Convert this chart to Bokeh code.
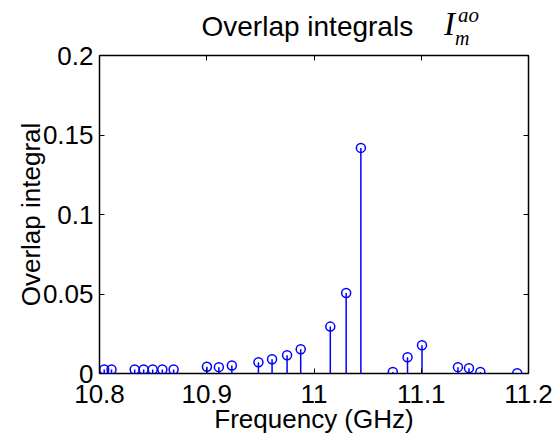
from bokeh.plotting import figure
from bokeh.layouts import column
from bokeh.models import FixedTicker, LinearAxis, Range1d, ColumnDataSource, Div
from bokeh.embed import file_html
from bokeh.resources import INLINE

# ---- data ----
freq = [10.8044, 10.8112, 10.8328, 10.8412, 10.8496, 10.8586, 10.8691,
        10.9002, 10.9113, 10.9234, 10.9482, 10.9609, 10.9749, 10.9876,
        11.0152, 11.0300, 11.0437, 11.0735, 11.0872, 11.1007,
        11.1342, 11.1445, 11.1551, 11.1895]
overlap = [0.0025, 0.0025, 0.0025, 0.0025, 0.0025, 0.0025, 0.0025,
           0.0042, 0.0040, 0.0050, 0.0071, 0.0090, 0.0115, 0.0152,
           0.0295, 0.0506, 0.1419, 0.0010, 0.0102, 0.0178,
           0.0040, 0.0033, 0.0010, 0.0002]
base = [0.0] * len(freq)

x_ticks = [10.8, 10.9, 11.0, 11.1, 11.2]
x_tick_labels = ["10.8", "10.9", "11", "11.1", "11.2"]
y_ticks = [0.0, 0.05, 0.1, 0.15, 0.2]
y_tick_labels = ["0", "0.05", "0.1", "0.15", "0.2"]

title_text = "Overlap integrals"
title_symbol = "I"
title_sup = "ao"
title_sub = "m"
x_label = "Frequency (GHz)"
y_label = "Overlap integral"

SANS = "Liberation Sans"
SERIF = "Liberation Serif"
BLUE = "#0000ff"
W = 559
TITLE_H = 46
OVERLAP = 10   # the plot's (transparent) top border slides under the title strip

# ---------------- title strip: real SVG text ----------------
def svg_text(x, y, txt, family, size, italic=False):
    style = (f"font-family:'{family}';font-size:{size}px;"
             f"font-style:{'italic' if italic else 'normal'};font-weight:normal;fill:#000")
    return f'<text x="{x}" y="{y}" style="{style}">{txt}</text>'

title_svg = (
    f'<svg xmlns="http://www.w3.org/2000/svg" width="{W}" height="{TITLE_H}" '
    f'style="display:block;overflow:visible">'
    + svg_text(201.5, 36, title_text, SANS, 28)
    + svg_text(444, 35, title_symbol, SERIF, 33, True)
    + svg_text(458, 22, title_sup, SERIF, 21, True)
    + svg_text(455, 45, title_sub, SERIF, 20, True)
    + '</svg>'
)
title_div = Div(text=title_svg, width=W, height=TITLE_H, margin=(0, 0, -OVERLAP, 0))

# ---------------- main stem plot ----------------
p = figure(width=W, height=436 - TITLE_H + OVERLAP,
           x_range=Range1d(10.8, 11.2), y_range=Range1d(0, 0.2),
           output_backend="svg", toolbar_location=None,
           min_border_left=99, min_border_right=31,
           min_border_top=55 - TITLE_H + OVERLAP, min_border_bottom=62)
p.background_fill_color = "white"
p.border_fill_color = None
p.outline_line_color = "black"
p.outline_line_width = 1.5
p.xgrid.visible = False
p.ygrid.visible = False

def style_axis(ax, ticks, labels, show_labels):
    ax.ticker = FixedTicker(ticks=ticks)
    ax.major_label_overrides = {t: l for t, l in zip(ticks, labels)}
    ax.axis_line_color = None
    ax.major_tick_in = 5
    ax.major_tick_out = 0
    ax.major_tick_line_color = "black"
    ax.major_tick_line_width = 1
    ax.minor_tick_line_color = None
    ax.major_label_text_font = SANS
    if show_labels:
        ax.major_label_text_font_size = "26px"
        ax.major_label_text_color = "black"
    else:
        ax.major_label_text_font_size = "1px"
        ax.major_label_text_color = None
        ax.major_label_standoff = 0

xa = p.xaxis[0]
style_axis(xa, x_ticks, x_tick_labels, True)
xa.major_label_standoff = 11
xa.axis_label = x_label
xa.axis_label_text_font = SANS
xa.axis_label_text_font_size = "26px"
xa.axis_label_text_font_style = "normal"
xa.axis_label_text_color = "black"
xa.axis_label_standoff = -2

ya = p.yaxis[0]
style_axis(ya, y_ticks, y_tick_labels, True)
ya.major_label_standoff = 6
ya.axis_label = y_label
ya.axis_label_text_font = SANS
ya.axis_label_text_font_size = "26px"
ya.axis_label_text_font_style = "normal"
ya.axis_label_text_color = "black"
ya.axis_label_standoff = -6

top_ax = LinearAxis()
style_axis(top_ax, x_ticks, x_tick_labels, False)
p.add_layout(top_ax, "above")
right_ax = LinearAxis()
style_axis(right_ax, y_ticks, y_tick_labels, False)
p.add_layout(right_ax, "right")

src = ColumnDataSource(dict(freq=freq, overlap=overlap, base=base))
p.segment(x0="freq", y0="base", x1="freq", y1="overlap", source=src,
          line_color=BLUE, line_width=1.5)
p.scatter(x="freq", y="overlap", source=src, marker="circle", size=9,
          fill_color=None, line_color=BLUE, line_width=1.5)

layout = column(title_div, p, spacing=0)
open("out.html", "w").write(file_html(layout, INLINE))
